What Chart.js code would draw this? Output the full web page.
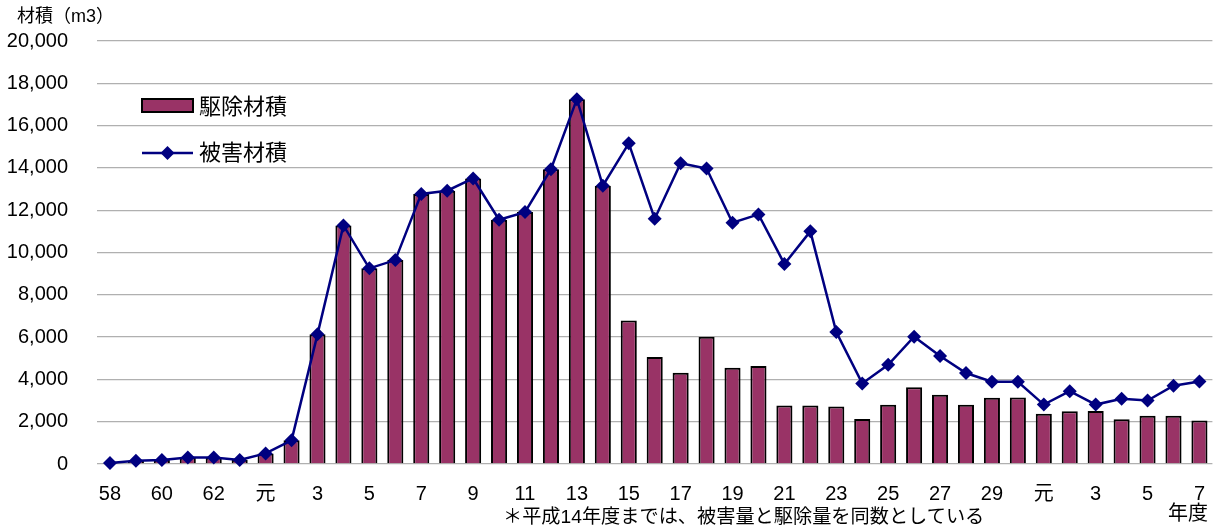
<!DOCTYPE html>
<html lang="ja">
<head>
<meta charset="utf-8">
<script src="https://cdn.jsdelivr.net/npm/chart.js@4.4.1/dist/chart.umd.min.js"></script>
<style>
  html, body { margin: 0; padding: 0; background: #fff; }
  #wrap { position: relative; width: 1215px; height: 531px; font-family: 'Liberation Sans', 'Noto Sans CJK JP', sans-serif; color: #000; }
  #chart { position: absolute; left: 0; top: 0; }
  .note { position: absolute; white-space: nowrap; line-height: 1; }
  #unit { left: 17px; top: 7px; font-size: 18px; }
  #foot { left: 503px; top: 507px; font-size: 19.2px; }
  #nendo { left: 1168px; top: 503px; font-size: 20px; }
</style>
</head>
<body>
<div id="wrap">
  <canvas id="chart" width="1215" height="531"></canvas>
  <div class="note" id="unit">材積（m3）</div>
  <div class="note" id="foot">＊平成14年度までは、被害量と駆除量を同数としている</div>
  <div class="note" id="nendo">年度</div>
</div>
<script>
// 年度: 昭和58〜63, 平成元〜30, 令和元〜7
var years = ['58', '59', '60', '61', '62', '63',
    '元', '2', '3', '4', '5', '6', '7', '8', '9', '10', '11', '12', '13', '14', '15',
    '16', '17', '18', '19', '20', '21', '22', '23', '24', '25', '26', '27', '28', '29', '30',
    '元', '2', '3', '4', '5', '6', '7'];

// 被害材積 (m3)
var damageVolume = [50, 150, 190, 310, 310, 190,
    500, 1120, 6130, 11280, 9250, 9640, 12770, 12920, 13500, 11550, 11910, 13940, 17250, 13160, 15160,
    11600, 14220, 13970, 11410, 11800, 9460, 11000, 6240, 3810, 4690, 6020, 5110, 4300, 3890, 3890,
    2810, 3440, 2810, 3080, 3000, 3700, 3900];

// 駆除材積 (m3) — 平成14年度までは被害量と同数
var removalVolume = [50, 150, 190, 310, 310, 190,
    500, 1120, 6130, 11280, 9250, 9640, 12770, 12920, 13500, 11550, 11910, 13940, 17250, 13160, 6780,
    5060, 4310, 6020, 4550, 4630, 2770, 2770, 2720, 2130, 2800, 3630, 3270, 2800, 3130, 3140,
    2380, 2500, 2510, 2110, 2280, 2280, 2060];

var yTicks = [0, 2000, 4000, 6000, 8000, 10000, 12000, 14000, 16000, 18000, 20000];

var barColor = '#993366';
var lineColor = '#000080';
var numFont = "'Liberation Sans', 'Noto Sans CJK JP', sans-serif";

// legend drawn inside the plot, top-left
var insideLegend = {
    id: 'insideLegend',
    afterDraw: function (chart) {
        var ctx = chart.ctx;
        ctx.save();
        // 駆除材積
        ctx.fillStyle = barColor;
        ctx.fillRect(142, 99, 51, 13);
        ctx.strokeStyle = '#000';
        ctx.lineWidth = 2;
        ctx.strokeRect(142, 99, 51, 13);
        // 被害材積
        ctx.strokeStyle = lineColor;
        ctx.lineWidth = 2.5;
        ctx.beginPath();
        ctx.moveTo(142, 153);
        ctx.lineTo(193, 153);
        ctx.stroke();
        ctx.fillStyle = lineColor;
        ctx.beginPath();
        ctx.moveTo(167.5, 146);
        ctx.lineTo(174.5, 153);
        ctx.lineTo(167.5, 160);
        ctx.lineTo(160.5, 153);
        ctx.closePath();
        ctx.fill();

        ctx.fillStyle = '#000';
        ctx.font = "22px 'Noto Sans CJK JP', sans-serif";
        ctx.textBaseline = 'middle';
        ctx.textAlign = 'left';
        ctx.fillText('駆除材積', 199, 106);
        ctx.fillText('被害材積', 199, 152);
        ctx.restore();
    }
};

new Chart(document.getElementById('chart').getContext('2d'), {
    data: {
        labels: years,
        datasets: [{
            type: 'line',
            label: '被害材積',
            data: damageVolume,
            borderColor: lineColor,
            backgroundColor: lineColor,
            borderWidth: 2.5,
            pointStyle: 'rectRot',
            pointRadius: 7,
            pointBorderWidth: 0,
            tension: 0,
            clip: false,
            order: 1
        }, {
            type: 'bar',
            label: '駆除材積',
            data: removalVolume,
            backgroundColor: barColor,
            borderColor: '#000',
            borderWidth: 2,
            categoryPercentage: 1,
            barPercentage: 0.62,
            order: 2
        }]
    },
    options: {
        responsive: false,
        animation: false,
        layout: { autoPadding: false, padding: { top: 38, right: 0, left: 0, bottom: 0 } },
        plugins: { legend: { display: false }, tooltip: { enabled: false } },
        scales: {
            x: {
                grid: { display: false },
                border: { display: false },
                ticks: {
                    autoSkip: false,
                    maxRotation: 0,
                    padding: 10,
                    color: '#000',
                    font: { family: numFont, size: 20 },
                    callback: function (v, i) { return i % 2 === 0 ? years[i] : ''; }
                },
                afterFit: function (scale) { scale.height = 67; }
            },
            y: {
                min: 0,
                max: 20000,
                afterBuildTicks: function (scale) {
                    scale.ticks = yTicks.map(function (v) { return { value: v }; });
                },
                grid: { color: '#b0b0b0', lineWidth: 1.3, drawTicks: false },
                border: { display: false },
                ticks: {
                    padding: 29,
                    color: '#000',
                    font: { family: numFont, size: 20 },
                    callback: function (v) { return v.toLocaleString('en-US'); }
                },
                afterFit: function (scale) { scale.width = 97; }
            }
        }
    },
    plugins: [insideLegend]
});
</script>
</body>
</html>
